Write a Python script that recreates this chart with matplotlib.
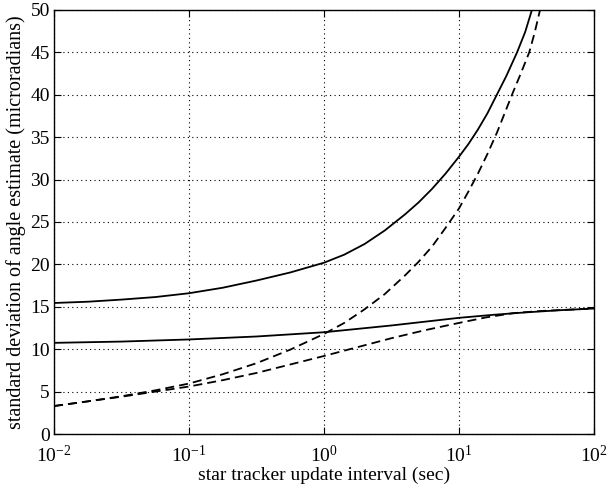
import numpy as np
import matplotlib.pyplot as plt

plt.rcParams['font.family'] = 'Liberation Serif'
plt.rcParams['mathtext.fontset'] = 'custom'
plt.rcParams['mathtext.rm'] = 'Liberation Serif'
plt.rcParams['mathtext.it'] = 'Liberation Serif:italic'

# log10 of update interval (sec) and std dev (microradians)
lx_solid_hi = [-2.0, -1.75, -1.5, -1.25, -1.0, -0.75, -0.5, -0.25, 0.0, 0.15, 0.3, 0.45, 0.6,
               0.7, 0.8, 0.9, 1.0, 1.07, 1.14, 1.21, 1.28, 1.35, 1.43, 1.49, 1.54]
y_solid_hi = [15.45, 15.6, 15.85, 16.15, 16.6, 17.25, 18.1, 19.05, 20.2, 21.15, 22.4, 24.0, 25.9,
              27.3, 28.9, 30.7, 32.7, 34.2, 35.9, 37.8, 40.0, 42.2, 45.0, 47.4, 50.0]

lx_solid_lo = [-2.0, -1.5, -1.0, -0.5, 0.0, 0.5, 1.0, 1.25, 1.5, 1.75, 2.0]
y_solid_lo = [10.75, 10.9, 11.15, 11.5, 12.0, 12.8, 13.7, 14.05, 14.35, 14.6, 14.8]

lx_dash_hi = [-2.0, -1.75, -1.5, -1.25, -1.0, -0.75, -0.5, -0.25, 0.0, 0.15, 0.3, 0.45, 0.6,
              0.7, 0.8, 0.9, 1.0, 1.07, 1.14, 1.21, 1.28, 1.34, 1.40, 1.46, 1.52, 1.56, 1.60]
y_dash_hi = [3.3, 3.85, 4.45, 5.15, 5.95, 7.05, 8.35, 9.95, 11.8, 13.1, 14.7, 16.5, 18.7,
             20.3, 22.1, 24.3, 26.6, 28.6, 30.7, 33.0, 35.5, 37.9, 40.3, 42.6, 45.0, 47.3, 50.0]

lx_dash_lo = [-2.0, -1.75, -1.5, -1.25, -1.0, -0.75, -0.5, -0.25, 0.0, 0.25, 0.5, 0.75,
              1.0, 1.2, 1.4, 1.6, 1.8, 2.0]
y_dash_lo = [3.3, 3.85, 4.4, 5.0, 5.6, 6.35, 7.2, 8.2, 9.2, 10.25, 11.3, 12.25,
             13.1, 13.75, 14.25, 14.5, 14.65, 14.8]

xticks = [1e-2, 1e-1, 1e0, 1e1, 1e2]
xticklabels = ['$10^{-2}$', '$10^{-1}$', '$10^{0}$', '$10^{1}$', '$10^{2}$']
yticks = [0, 5, 10, 15, 20, 25, 30, 35, 40, 45, 50]

fig = plt.figure(figsize=(6.16, 4.87), dpi=100)
ax = fig.add_axes([0.0877, 0.1088, 0.8766, 0.8707])

ax.plot(10**np.array(lx_solid_hi), y_solid_hi, 'k-', lw=1.3)
ax.plot(10**np.array(lx_solid_lo), y_solid_lo, 'k-', lw=1.3)
ax.plot(10**np.array(lx_dash_hi), y_dash_hi, 'k--', lw=1.3, dashes=(5, 2.8))
ax.plot(10**np.array(lx_dash_lo), y_dash_lo, 'k--', lw=1.3, dashes=(5, 2.8))

ax.set_xscale('log')
ax.set_xlim(1e-2, 1e2)
ax.set_ylim(0, 50)
ax.set_xticks(xticks)
ax.set_xticklabels(xticklabels)
ax.set_yticks(yticks)
ax.minorticks_off()
ax.tick_params(direction='in', top=True, right=True, labelsize=14, length=5, width=0.8)
ax.tick_params(axis='x', pad=8)
ax.tick_params(axis='y', pad=3)
ax.grid(True, color='k', linestyle=(0, (1, 3)), linewidth=0.8)
for s in ax.spines.values():
    s.set_linewidth(1.0)

ax.set_xlabel('star tracker update interval (sec)', fontsize=14, labelpad=0)
ax.set_ylabel('standard deviation of angle estimate (microradians)', fontsize=14.5, labelpad=3)

fig.savefig('out.png', dpi=100)
